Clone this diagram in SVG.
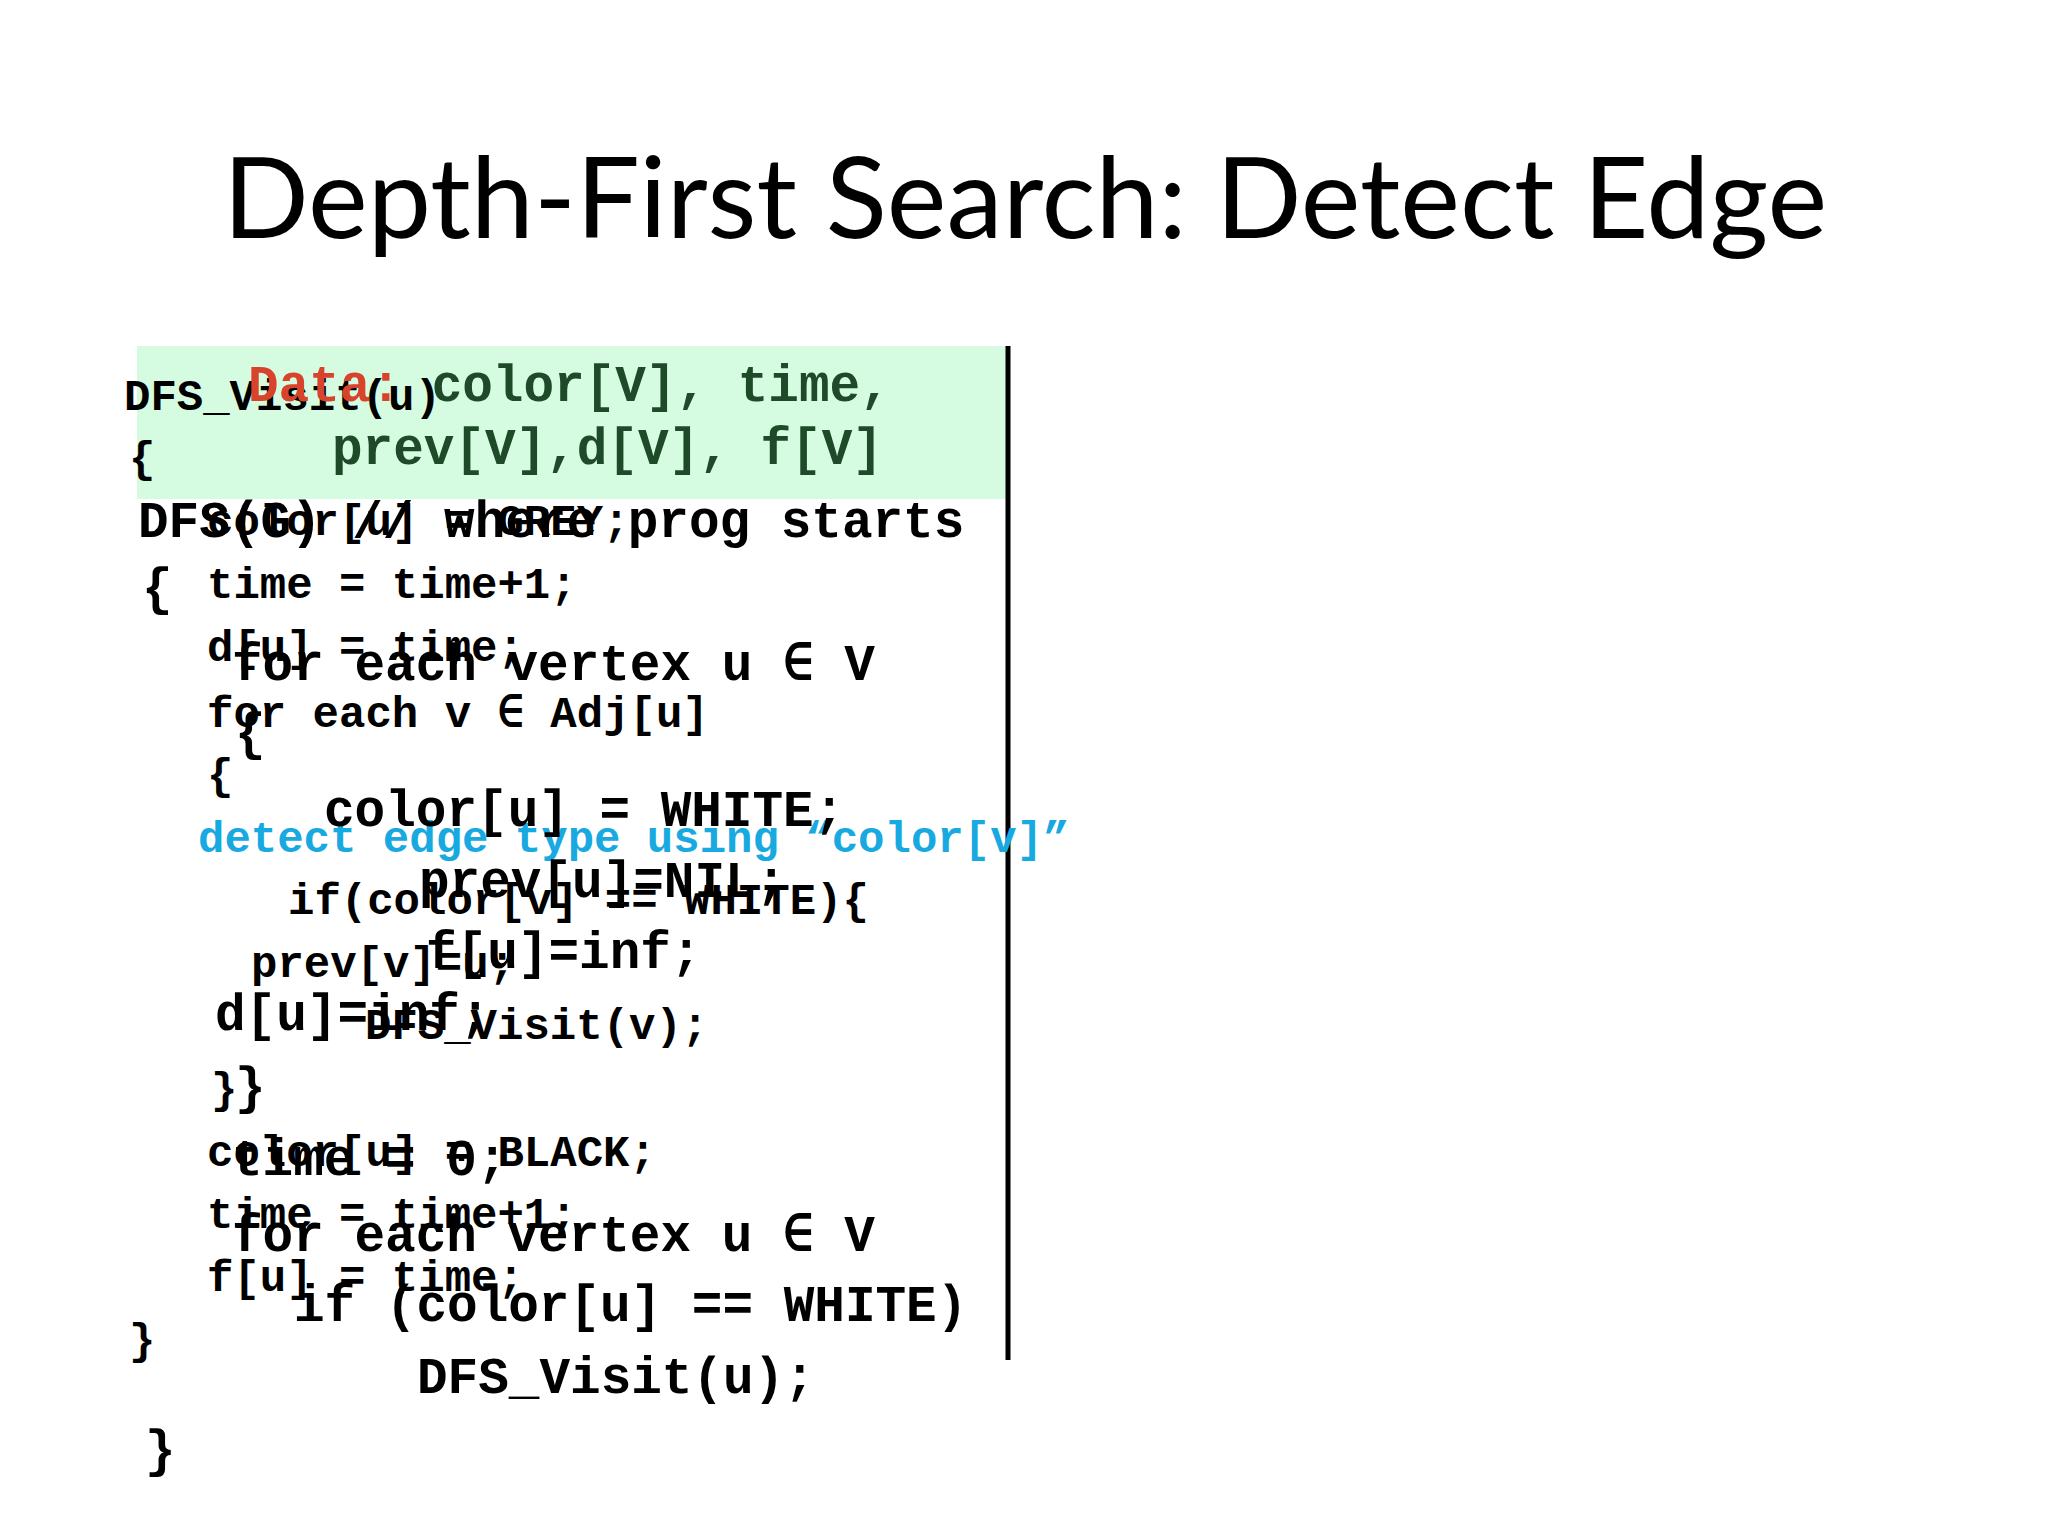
<svg xmlns="http://www.w3.org/2000/svg" width="2048" height="1536" viewBox="0 0 2048 1536">
<style>
.a{font-family:"Liberation Mono",monospace;font-weight:bold;font-size:51px;fill:#000;white-space:pre}
.b{font-family:"Liberation Mono",monospace;font-weight:bold;font-size:44px;fill:#000;white-space:pre}
.g{fill:#1f4a2a}
</style>
<rect width="2048" height="1536" fill="#fff"/>
<text x="1025" y="238" text-anchor="middle" font-family="Lato,sans-serif" font-size="113" fill="#000">Depth-First Search: Detect Edge</text>
<rect x="137" y="346" width="871" height="153" fill="#d5fce0"/>
<line x1="1008" y1="346" x2="1008" y2="1360" stroke="#000" stroke-width="5"/>
<g id="visit" transform="translate(0,-6)">
<text class="b" x="124" y="416">DFS_Visit(u)</text>
<text class="b" x="129" y="478">{</text>
<text class="b" x="207" y="541">color[u] = GREY;</text>
<text class="b" x="207" y="604">time = time+1;</text>
<text class="b" x="207" y="667">d[u] = time;</text>
<text class="b" x="207" y="733">for each v ∈ Adj[u]</text>
<text class="b" x="207" y="795">{</text>
<text class="b" x="198" y="858" style="fill:#19a9e1">detect edge type using “color[v]”</text>
<text class="b" x="288" y="920">if(color[v] == WHITE){</text>
<text class="b" x="251" y="983">prev[v]=u;</text>
<text class="b" x="365" y="1045">DFS_Visit(v);</text>
<text class="b" x="211" y="1109">}</text>
<text class="b" x="207" y="1172">color[u] = BLACK;</text>
<text class="b" x="207" y="1234">time = time+1;</text>
<text class="b" x="207" y="1297">f[u] = time;</text>
<text class="b" x="129" y="1360">}</text>
</g>
<g id="dfs" transform="translate(-3,-6)">
<text class="a" x="251" y="407"><tspan fill="#d8432c">Data:</tspan><tspan class="g"> color[V], time,</tspan></text>
<text class="a g" x="335" y="470">prev[V],d[V], f[V]</text>
<text class="a" x="141" y="543">DFS(G) // where prog starts</text>
<text class="a" x="145" y="610">{</text>
<text class="a" x="235" y="686">for each vertex u ∈ V</text>
<text class="a" x="238" y="755">{</text>
<text class="a" x="327" y="832">color[u] = WHITE;</text>
<text class="a" x="422" y="903">prev[u]=NIL;</text>
<text class="a" x="429" y="974">f[u]=inf;</text>
<text class="a" x="218" y="1036">d[u]=inf;</text>
<text class="a" x="238" y="1109">}</text>
<text class="a" x="235" y="1181">time = 0;</text>
<text class="a" x="235" y="1257">for each vertex u ∈ V</text>
<text class="a" x="297" y="1327">if (color[u] == WHITE)</text>
<text class="a" x="420" y="1399">DFS_Visit(u);</text>
<text class="a" x="148" y="1472">}</text>
</g>
<g id="connectors"/>
</svg>
